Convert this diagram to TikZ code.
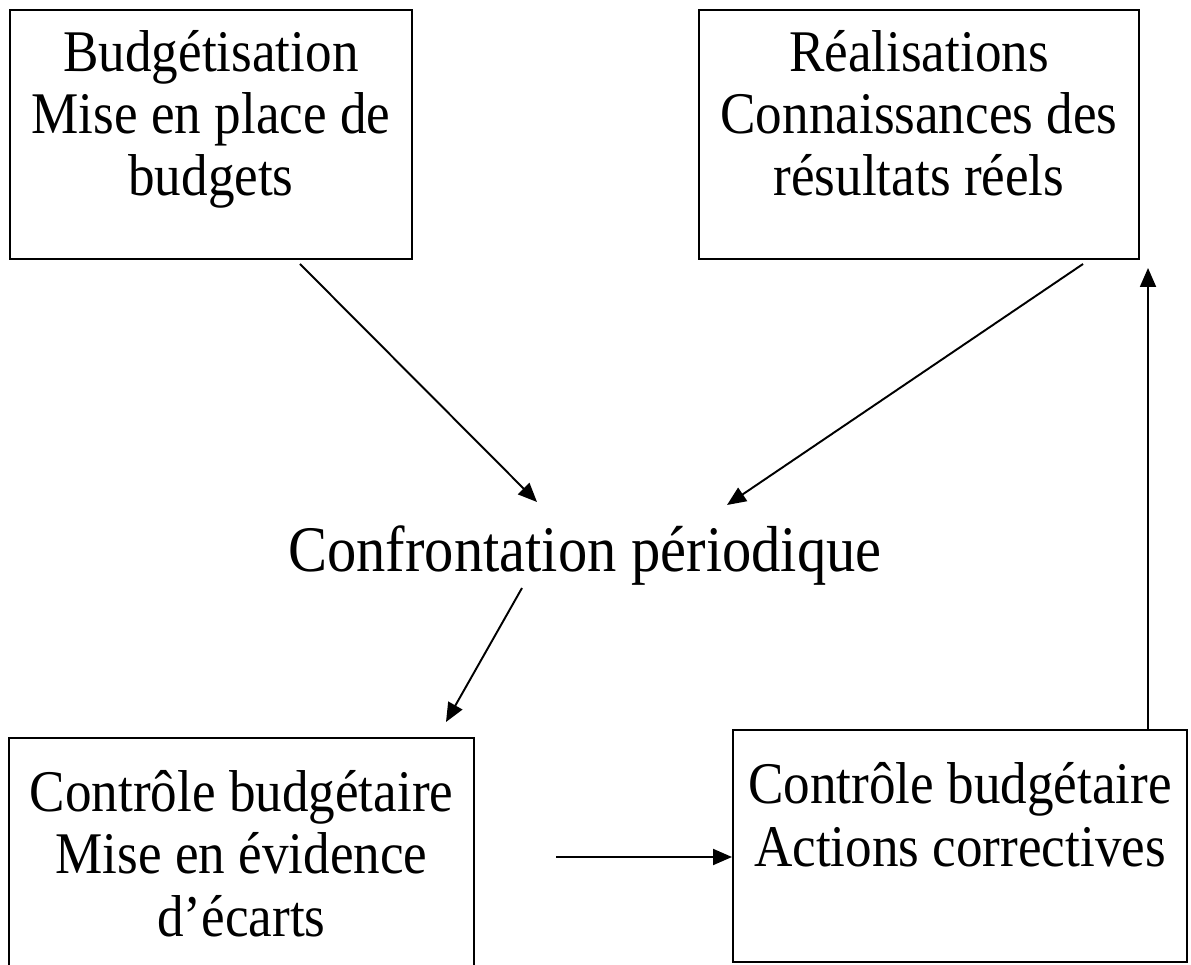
\documentclass[tikz,border=0pt]{standalone}
\usepackage{fontspec}
\setmainfont{Liberation Serif}[FakeStretch=0.9]
\usetikzlibrary{arrows.meta}

\begin{document}
\begin{tikzpicture}[>={Triangle[length=0.38cm,width=0.32cm]},line width=1.1pt]
\tikzset{
  bloc/.style={draw,line width=1.2pt},
  bloctext/.style={align=center,inner sep=0pt,anchor=base,
    font=\fontsize{33.6}{35.3}\selectfont},
}
\useasboundingbox (0,0) rectangle (23.82,19.28);
\clip (0,0) rectangle (23.82,19.28);

% Corners of the four blocks.
\coordinate (prevA) at (0.2,14.1);
\coordinate (prevB) at (8.24,19.08);
\coordinate (reelA) at (13.98,14.1);
\coordinate (reelB) at (22.78,19.08);
\coordinate (ecartA) at (0.18,-1);
\coordinate (ecartB) at (9.48,4.52);
\coordinate (corrA) at (14.66,0.04);
\coordinate (corrB) at (23.74,4.68);

\draw[bloc] (prevA) rectangle (prevB);
\draw[bloc] (reelA) rectangle (reelB);
\draw[bloc] (ecartA) rectangle (ecartB);
\draw[bloc] (corrA) rectangle (corrB);

% Texts of the blocks (placed by their last line) and of the comparison step.
\node[bloctext] (prev) at (4.22,15.36) {Budgétisation\\Mise en place de\\budgets};
\node[bloctext] (reel) at (18.38,15.36) {Réalisations\\Connaissances des\\résultats réels};
\node[bloctext] (ecart) at (4.83,0.56) {Contrôle budgétaire\\Mise en évidence\\d’écarts};
\node[bloctext] (corr) at (19.2,1.96) {Contrôle budgétaire\\Actions correctives};
\node[anchor=base,inner sep=0pt,font=\fontsize{37}{40}\selectfont] (conf)
  at (11.7,7.84) {Confrontation périodique};

% Ends of the connectors.
\coordinate (prevOut) at (6.0,14.0);
\coordinate (confInA) at (10.74,9.24);
\coordinate (reelOut) at (21.66,14.0);
\coordinate (confInB) at (14.54,9.18);
\coordinate (confOut) at (10.44,7.52);
\coordinate (ecartIn) at (8.92,4.84);
\coordinate (ecartOut) at (11.12,2.14);
\coordinate (corrIn) at (14.64,2.14);
\coordinate (corrOut) at (22.96,4.68);
\coordinate (reelIn) at (22.96,13.92);

\draw[->] (prevOut) -- (confInA);
\draw[->] (reelOut) -- (confInB);
\draw[->] (confOut) -- (ecartIn);
\draw[->] (ecartOut) -- (corrIn);
\draw[->] (corrOut) -- (reelIn);
\end{tikzpicture}
\end{document}
